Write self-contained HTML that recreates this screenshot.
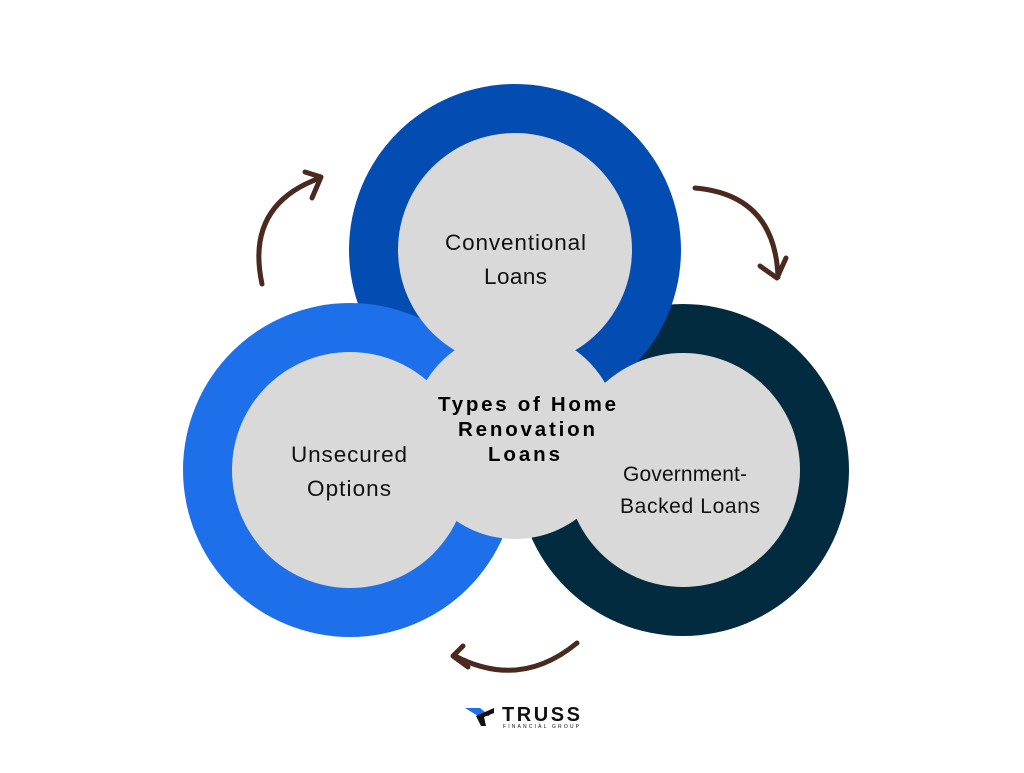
<!DOCTYPE html>
<html><head><style>
body{margin:0;width:1024px;height:768px;background:#fff;overflow:hidden;font-family:"Liberation Sans",sans-serif}
</style></head><body>
<svg width="1024" height="768" viewBox="0 0 1024 768" xmlns="http://www.w3.org/2000/svg">
<circle cx="683" cy="470" r="166" fill="#032b3f"/>
<circle cx="515" cy="250" r="166" fill="#034cb1"/>
<circle cx="350" cy="470" r="167" fill="#1e70ea"/>
<circle cx="515" cy="250" r="117" fill="#d9d9d9"/>
<circle cx="350" cy="470" r="118" fill="#d9d9d9"/>
<circle cx="683" cy="470" r="117" fill="#d9d9d9"/>
<circle cx="515" cy="435" r="104" fill="#d9d9d9"/>
<g font-family="Liberation Sans, sans-serif" font-size="22.5" fill="#111">
<text x="445" y="250" textLength="141" lengthAdjust="spacing">Conventional</text><text x="484" y="284" textLength="63" lengthAdjust="spacing">Loans</text>
<text x="291" y="462" textLength="116" lengthAdjust="spacing">Unsecured</text><text x="307" y="496" textLength="84" lengthAdjust="spacing">Options</text>
</g>
<g font-family="Liberation Sans, sans-serif" font-size="21" fill="#111">
<text x="623" y="481" textLength="124" lengthAdjust="spacing">Government-</text><text x="620" y="513" textLength="140" lengthAdjust="spacing">Backed Loans</text>
</g>
<g font-family="Liberation Sans, sans-serif" font-size="20.5" font-weight="bold" fill="#000">
<text x="438" y="411" textLength="178" lengthAdjust="spacing">Types of Home</text><text x="458" y="436" textLength="137" lengthAdjust="spacing">Renovation</text><text x="488" y="461" textLength="72" lengthAdjust="spacing">Loans</text>
</g>
<g fill="none" stroke="#4a2a1e" stroke-width="5" stroke-linecap="round" stroke-linejoin="round">
<path d="M262 284 Q245 205 320 178"/><path d="M305 172 L321 177 L312 198"/>
<path d="M695 188 Q775 195 778 277"/><path d="M760 266 L777 278 L786 258"/>
<path d="M577 643 Q520 690 455 656"/><path d="M463 646 L453 656 L468 667"/>
</g>
<path d="M465 708 L480 708 L490 716 L478 716 Z" fill="#1e70ea"/>
<path d="M476 716 L494 708 L494 713 L484 717 L486 726 L481 726 Z" fill="#111"/>
<text x="502" y="721" font-size="20" font-weight="bold" fill="#111" textLength="78" lengthAdjust="spacing">TRUSS</text>
<text x="503" y="728" font-size="5" fill="#111" textLength="76" lengthAdjust="spacing">FINANCIAL GROUP</text>
</svg>
</body></html>
